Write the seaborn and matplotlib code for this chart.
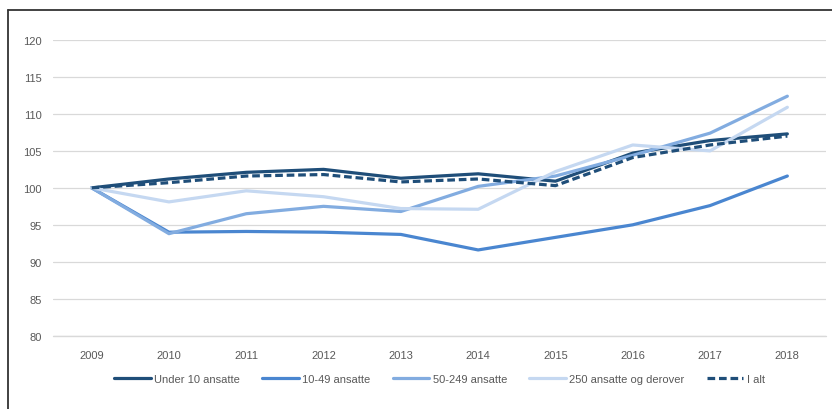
import matplotlib
matplotlib.use("Agg")
import matplotlib.pyplot as plt
import seaborn as sns
import pandas as pd
from matplotlib.lines import Line2D

years = [2009, 2010, 2011, 2012, 2013, 2014, 2015, 2016, 2017, 2018]
under10 = [100, 101.2, 102.1, 102.5, 101.3, 101.9, 100.9, 104.7, 106.4, 107.3]
s10_49 = [100, 94.0, 94.1, 94.0, 93.7, 91.6, 93.3, 95.0, 97.6, 101.6]
s50_249 = [100, 93.8, 96.5, 97.5, 96.8, 100.2, 101.6, 104.4, 107.4, 112.4]
s250 = [100, 98.1, 99.6, 98.8, 97.2, 97.1, 102.2, 105.8, 105.0, 110.9]
ialt = [100, 100.7, 101.6, 101.8, 100.8, 101.2, 100.3, 104.1, 105.8, 107.0]

series_names = ["Under 10 ansatte", "10-49 ansatte", "50-249 ansatte",
                "250 ansatte og derover", "I alt"]
series_vals = [under10, s10_49, s50_249, s250, ialt]
colors = ["#1F4E79", "#4A86D0", "#82ACE0", "#C5D8F1", "#1F4E79"]
styles = ["-", "-", "-", "-", "--"]

sns.set_theme(style="white")
plt.rcParams["font.family"] = ["Liberation Sans", "DejaVu Sans"]

rows = []
for name, vals in zip(series_names, series_vals):
    for i, (y, v) in enumerate(zip(years, vals)):
        rows.append({"pos": i, "year": str(y), "serie": name, "value": v})
df = pd.DataFrame(rows)

fig = plt.figure(figsize=(8.32, 4.10), dpi=100)
ax = fig.add_axes([53 / 832, 1 - 336.7 / 410, (826 - 53) / 832, (336.7 - 41) / 410])

for name, col, ls in zip(series_names, colors, styles):
    sub = df[df["serie"] == name]
    sns.lineplot(data=sub, x="pos", y="value", ax=ax, color=col,
                 linewidth=2.3, label=name, legend=False, zorder=3)
    ax.lines[-1].set_linestyle(ls)
    if ls == "--":
        ax.lines[-1].set_dashes((2.4, 1.2))

ax.set_xlim(-0.5, len(years) - 0.5)
ax.set_ylim(80, 120)
ax.set_yticks(range(80, 121, 5))
ax.set_xticks(range(len(years)))
ax.set_xticklabels([str(y) for y in years])
ax.grid(axis="y", color="#D9D9D9", linewidth=0.9)
ax.grid(axis="x", visible=False)
ax.axhline(80, color="#D9D9D9", linewidth=1.0, clip_on=False, zorder=1)
for s in ["top", "right", "left", "bottom"]:
    ax.spines[s].set_visible(False)
ax.tick_params(axis="both", length=0, labelsize=8, colors="#595959", pad=8)
ax.tick_params(axis="x", pad=10)
ax.set_xlabel("")
ax.set_ylabel("")

handles = []
for name, col, ls in zip(series_names, colors, styles):
    h = Line2D([], [], color=col, linewidth=2.3, linestyle=ls)
    if ls == "--":
        h.set_dashes((2.4, 1.2))
    handles.append(h)
leg = ax.legend(handles, series_names, loc="center",
                bbox_to_anchor=(0.5 * (53 + 826) / 832, (410 - 380) / 410),
                bbox_transform=fig.transFigure, ncol=5, frameon=False, fontsize=8,
                handlelength=3.3, handletextpad=0.3, columnspacing=2.0,
                labelcolor="#595959")

# frame lines (left and top)
fig.add_artist(Line2D([8 / 832, 8 / 832], [0, 1 - 11 / 410], transform=fig.transFigure,
                      color="#333333", linewidth=1.3))
fig.add_artist(Line2D([8 / 832, 1], [1 - 11 / 410, 1 - 11 / 410], transform=fig.transFigure,
                      color="#333333", linewidth=1.3))

fig.savefig("out.png", dpi=100)
